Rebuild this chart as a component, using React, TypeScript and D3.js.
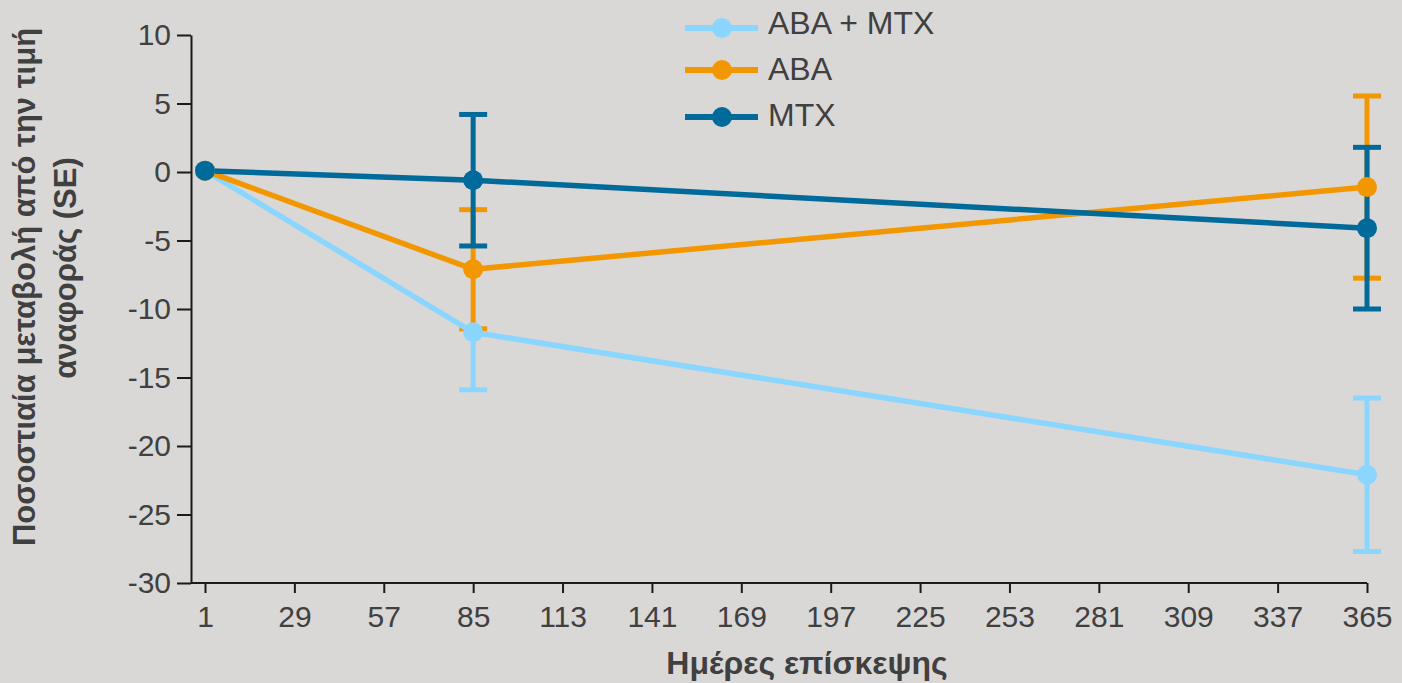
import { useEffect, useRef } from "react";
import * as d3 from "d3";

const days = [1, 85, 365];
const seriesNames = ["ABA + MTX", "ABA", "MTX"];
const seriesColors = ["#8ad6ff", "#f39700", "#006a9a"];
const abaMtx = [0.1, -11.7, -22.1];
const abaMtxSeUp = [0, 0, 5.6];
const abaMtxSeDown = [0, 4.2, 5.6];
const aba = [0.1, -7.1, -1.1];
const abaSe = [0, 4.35, 6.65];
const mtx = [0.1, -0.6, -4.1];
const mtxSe = [0, 4.8, 5.9];
const xTicks = [1, 29, 57, 85, 113, 141, 169, 197, 225, 253, 281, 309, 337, 365];
const yTicks = [10, 5, 0, -5, -10, -15, -20, -25, -30];

const xTitle = "Ημέρες επίσκεψης";
const yTitle1 = "Ποσοστιαία μεταβολή από την τιμή";
const yTitle2 = "αναφοράς (SE)";

const font = "'Liberation Sans', Arial, sans-serif";
const textColor = "#404040";
const axisColor = "#1a1a1a";

export default function App() {
  const svgRef = useRef<SVGSVGElement>(null);

  useEffect(() => {
    if (!svgRef.current) return;
    document.body.style.margin = "0";

    const width = 1402;
    const height = 683;
    const axisLeftX = 191;

    d3.select(svgRef.current).selectAll("*").remove();
    const svg = d3
      .select(svgRef.current)
      .attr("width", width)
      .attr("height", height)
      .attr("viewBox", `0 0 ${width} ${height}`);

    svg.append("rect").attr("width", width).attr("height", height).attr("fill", "#d9d8d7");

    const x = d3.scaleLinear().domain([1, 365]).range([205, 1367]);
    const y = d3.scaleLinear().domain([-30, 10]).range([583, 35]);

    // y axis
    const gy = svg
      .append("g")
      .attr("transform", `translate(${axisLeftX},0)`)
      .call(
        d3
          .axisLeft(y)
          .tickValues(yTicks)
          .tickSize(14)
          .tickSizeOuter(0)
          .tickPadding(6)
          .tickFormat((d) => String(d))
      );
    gy.select(".domain").attr("stroke", axisColor).attr("stroke-width", 2);
    gy.selectAll(".tick line").attr("stroke", axisColor).attr("stroke-width", 2);
    gy.selectAll(".tick text")
      .attr("fill", textColor)
      .attr("font-size", 30)
      .attr("font-family", font);

    // x axis
    const gx = svg
      .append("g")
      .attr("transform", `translate(0,${y(-30)})`)
      .call(
        d3
          .axisBottom(x)
          .tickValues(xTicks)
          .tickSize(10)
          .tickSizeOuter(0)
          .tickPadding(13)
          .tickFormat((d) => String(d))
      );
    gx.select(".domain").remove();
    gx.append("line")
      .attr("x1", axisLeftX)
      .attr("x2", x(365))
      .attr("stroke", axisColor)
      .attr("stroke-width", 2);
    gx.selectAll(".tick line").attr("stroke", axisColor).attr("stroke-width", 2);
    gx.selectAll(".tick text")
      .attr("fill", textColor)
      .attr("font-size", 30)
      .attr("font-family", font);

    // titles
    svg
      .append("text")
      .attr("x", 807)
      .attr("y", 674)
      .attr("text-anchor", "middle")
      .attr("font-family", font)
      .attr("font-weight", "bold")
      .attr("font-size", 32)
      .attr("fill", textColor)
      .text(xTitle);

    svg
      .append("text")
      .attr("transform", "translate(35,287) rotate(-90)")
      .attr("text-anchor", "middle")
      .attr("font-family", font)
      .attr("font-weight", "bold")
      .attr("font-size", 31)
      .attr("fill", textColor)
      .text(yTitle1);

    svg
      .append("text")
      .attr("transform", "translate(76,268) rotate(-90)")
      .attr("text-anchor", "middle")
      .attr("font-family", font)
      .attr("font-weight", "bold")
      .attr("font-size", 31)
      .attr("fill", textColor)
      .text(yTitle2);

    const series = [
      { values: abaMtx, up: abaMtxSeUp, down: abaMtxSeDown },
      { values: aba, up: abaSe, down: abaSe },
      { values: mtx, up: mtxSe, down: mtxSe },
    ].map((s, i) => ({
      name: seriesNames[i],
      color: seriesColors[i],
      points: days.map((d, j) => ({ day: d, v: s.values[j], up: s.up[j], down: s.down[j] })),
    }));

    type P = { day: number; v: number; up: number; down: number };
    const capHalf = 14;

    // error bars
    series.forEach((s) => {
      const g = svg.append("g").attr("stroke", s.color).attr("stroke-width", 5);
      s.points
        .filter((p) => p.up > 0 || p.down > 0)
        .forEach((p) => {
          g.append("line")
            .attr("x1", x(p.day))
            .attr("x2", x(p.day))
            .attr("y1", y(p.v + p.up))
            .attr("y2", y(p.v - p.down));
          const caps = [];
          if (p.up > 0) caps.push(p.v + p.up);
          if (p.down > 0) caps.push(p.v - p.down);
          caps.forEach((c) => {
            g.append("line")
              .attr("x1", x(p.day) - capHalf)
              .attr("x2", x(p.day) + capHalf)
              .attr("y1", y(c))
              .attr("y2", y(c));
          });
        });
    });

    // lines
    const line = d3
      .line<P>()
      .x((d) => x(d.day))
      .y((d) => y(d.v));
    series.forEach((s) => {
      svg
        .append("path")
        .datum(s.points)
        .attr("fill", "none")
        .attr("stroke", s.color)
        .attr("stroke-width", 5.5)
        .attr("d", line);
    });

    // markers
    series.forEach((s) => {
      svg
        .append("g")
        .selectAll("circle")
        .data(s.points)
        .join("circle")
        .attr("cx", (d) => x(d.day))
        .attr("cy", (d) => y(d.v))
        .attr("r", 10)
        .attr("fill", s.color);
    });

    // legend
    const legendRows = [28, 70, 117];
    const legendBaselines = [34, 80, 126];
    const legend = svg.append("g");
    series.forEach((s, i) => {
      const ly = legendRows[i];
      legend
        .append("line")
        .attr("x1", 685)
        .attr("x2", 758)
        .attr("y1", ly)
        .attr("y2", ly)
        .attr("stroke", s.color)
        .attr("stroke-width", 6);
      legend.append("circle").attr("cx", 722).attr("cy", ly).attr("r", 10).attr("fill", s.color);
      legend
        .append("text")
        .attr("x", 768)
        .attr("y", legendBaselines[i])
        .attr("font-family", font)
        .attr("font-size", 32)
        .attr("fill", textColor)
        .text(s.name);
    });
  }, []);

  return <svg ref={svgRef} style={{ display: "block" }} />;
}
